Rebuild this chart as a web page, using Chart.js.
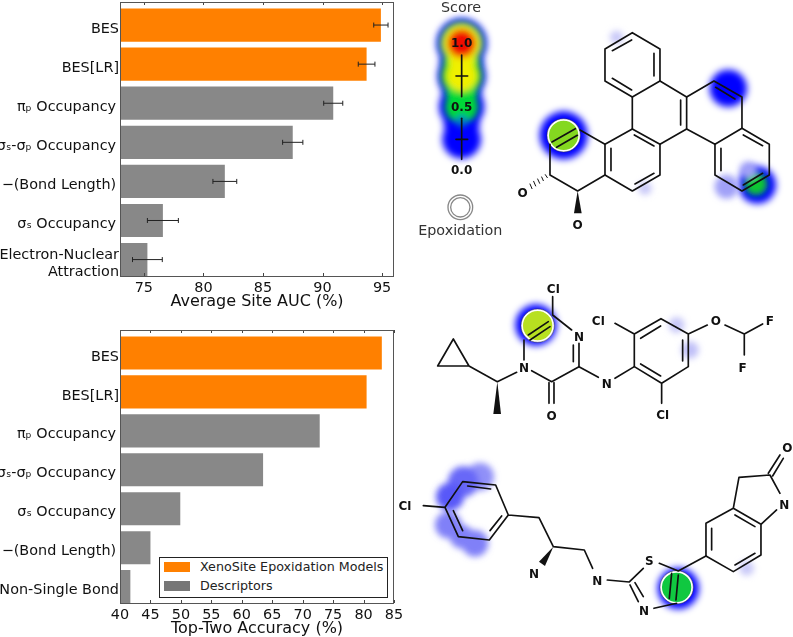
<!DOCTYPE html>
<html>
<head>
<meta charset="utf-8">
<script src="https://cdn.jsdelivr.net/npm/chart.js@4"></script>
<style>
html, body { margin: 0; padding: 0; background: #fff; overflow: hidden; }
body { width: 793px; height: 637px; position: relative; font-family: "DejaVu Sans", sans-serif; }
canvas { position: absolute; left: 0; }
#aucBox { position: absolute; left: 0; top: 0; width: 420px; height: 310px; }
#topBox { position: absolute; left: 0; top: 310px; width: 420px; height: 327px; }
#legend { position: absolute; left: 159px; top: 557px; width: 227px; height: 39px; border: 1px solid #222; background: #fff; font-size: 12.7px; color: #222; }
#legend div { position: absolute; left: 40px; white-space: nowrap; line-height: 14px; }
#legend span { position: absolute; left: 4px; width: 26px; height: 10px; }
#art { position: absolute; left: 0; top: 0; }
#art path, #art line { fill: none; stroke: #111; stroke-width: 5; stroke-linecap: round; stroke-linejoin: round; }
#art text { font-family: "DejaVu Sans", sans-serif; font-weight: bold; font-size: 36px; text-anchor: middle; dominant-baseline: central; fill: #111; }
#art text.plain { font-weight: normal; font-size: 43px; fill: #333; }
</style>
</head>
<body>
<div id="aucBox"><canvas id="aucChart"></canvas></div>
<div id="topBox"><canvas id="topChart"></canvas></div>
<div id="legend">
  <span id="swatchA" style="top:4px"></span><div style="top:2px">XenoSite Epoxidation Models</div>
  <span id="swatchB" style="top:23px"></span><div style="top:21px">Descriptors</div>
</div>

<svg id="art" width="793" height="637" viewBox="0 0 793 637">
  <defs>
    <filter id="b8" x="-60%" y="-60%" width="220%" height="220%"><feGaussianBlur stdDeviation="9"/></filter>
    <filter id="b12" x="-60%" y="-60%" width="220%" height="220%"><feGaussianBlur stdDeviation="11"/></filter>
  </defs>

  <!-- score key and first molecule, coordinates in 3x crop units -->
  <g transform="translate(400,0) scale(0.3333)">
    <g filter="url(#b12)" fill="#0000ff">
      <circle cx="185" cy="130" r="75"/><circle cx="185" cy="190" r="66"/><circle cx="185" cy="228" r="72"/><circle cx="185" cy="275" r="60"/><circle cx="185" cy="320" r="68"/><circle cx="185" cy="370" r="54"/><circle cx="185" cy="418" r="58"/>
      <circle cx="491" cy="406" r="72"/><circle cx="985" cy="265" r="56"/><circle cx="1072" cy="555" r="56"/>
    </g>
    <g filter="url(#b8)">
      <circle cx="185" cy="130" r="66" fill="#00e050"/><circle cx="185" cy="190" r="56" fill="#10e040"/><circle cx="185" cy="228" r="62" fill="#20e020"/><circle cx="185" cy="275" r="48" fill="#10e040"/><circle cx="185" cy="320" r="50" fill="#00d838"/><circle cx="185" cy="362" r="18" fill="#0080c0"/>
      <circle cx="185" cy="228" r="46" fill="#f0f000"/><circle cx="185" cy="180" r="40" fill="#f0f000"/><circle cx="185" cy="130" r="56" fill="#f0e800"/><circle cx="185" cy="130" r="42" fill="#f01000"/>
      <circle cx="1068" cy="552" r="34" fill="#10c830"/>
      <circle cx="650" cy="112" r="20" fill="#c8c8f8"/><circle cx="735" cy="565" r="20" fill="#c8c8f8"/><circle cx="980" cy="560" r="36" fill="#a0a0f8"/><circle cx="1045" cy="510" r="26" fill="#a0a0f8"/>
    </g>
    <circle cx="491" cy="406" r="47" fill="#84d820" stroke="#fff" stroke-width="6"/>
    <circle cx="491" cy="406" r="50" fill="none" stroke="#333" stroke-width="1.5"/>

    <path d="M697 98L780 147V243L697 291L615 243V147Z"/>
    <path d="M637 152L695 120M762 160V228M637 235L695 270"/>
    <path d="M780 243L860 291V387L780 433M697 291V387M842 300V375"/>
    <path d="M860 291L942 243L1026 291V385L945 433L860 387M947 262L1005 297"/>
    <path d="M1026 385L1108 433V525L1026 573L945 525V433M1030 405L1088 437M1030 555L1088 520M963 445V512"/>
    <path d="M697 387L780 433V525L697 573L615 525V433ZM633 445V512M705 552L762 520M703 405L762 438"/>
    <path d="M615 525L533 573L450 525V433M615 433L540 390M456 426L526 386M470 442L532 406"/>
    <path d="M442 533L436 524M430 542L425 531M419 550L413 537M407 558L401 544M396 566L390 552" style="stroke-width:3"/>
    <polygon points="533,573 522,640 545,640" fill="#111"/>
    <text x="368" y="580">O</text><text x="533" y="675">O</text>

    <line x1="185" y1="165" x2="185" y2="290"/><line x1="168" y1="228" x2="203" y2="228"/>
    <line x1="185" y1="355" x2="185" y2="478"/><line x1="168" y1="418" x2="203" y2="418"/>
    <text x="185" y="130">1.0</text><text x="185" y="320">0.5</text><text x="185" y="510">0.0</text>
    <text class="plain" x="183" y="20">Score</text><text class="plain" x="181" y="690">Epoxidation</text>
    <circle cx="181" cy="622" r="37" fill="none" stroke="#888" stroke-width="4"/><circle cx="181" cy="622" r="29" fill="none" stroke="#888" stroke-width="4"/>
  </g>

  <!-- second and third molecules -->
  <g transform="translate(400,260) scale(0.3333)">
    <g filter="url(#b12)" fill="#0000ff">
      <circle cx="408" cy="195" r="62"/><circle cx="835" cy="985" r="62"/>
    </g>
    <g filter="url(#b8)">
      <circle cx="830" cy="195" r="24" fill="#c8c8f8"/><circle cx="870" cy="270" r="26" fill="#c0c0f8"/><circle cx="1040" cy="925" r="22" fill="#c8c8f8"/>
      <circle cx="240" cy="650" r="42" fill="#9090f8"/><circle cx="190" cy="665" r="46" fill="#6868f8"/><circle cx="150" cy="710" r="42" fill="#5858f8"/><circle cx="145" cy="795" r="40" fill="#8080f8"/><circle cx="185" cy="830" r="36" fill="#8080f8"/><circle cx="225" cy="850" r="40" fill="#8080f8"/>
    </g>
    <circle cx="413" cy="197" r="47" fill="#b8e020" stroke="#fff" stroke-width="6"/>
    <circle cx="413" cy="197" r="50" fill="none" stroke="#333" stroke-width="1.5"/>
    <circle cx="830" cy="982" r="47" fill="#10c840" stroke="#fff" stroke-width="6"/>
    <circle cx="830" cy="982" r="50" fill="none" stroke="#333" stroke-width="1.5"/>

    <path d="M160 237L113 318H207ZM207 318L292 365L350 337M395 332L455 365L537 320L595 352M645 355L703 320"/>
    <polygon points="292,365 280,462 303,462" fill="#111"/>
    <path d="M372 300V240M385 225L445 185M390 240L450 200M458 110V165L515 210M520 255V305M537 250V320M447 368V430M462 368V430"/>
    <path d="M703 320V222L783 176L865 222V320L785 370ZM645 190L703 222M722 235L782 198M848 240V303M722 312L782 348M785 370V430M865 222L922 195M975 195L1033 222L1088 192M1033 222V285"/>
    <text x="460" y="88">Cl</text><text x="537" y="230">N</text><text x="372" y="325">N</text><text x="455" y="467">O</text><text x="620" y="372">N</text>
    <text x="595" y="182">Cl</text><text x="788" y="465">Cl</text><text x="948" y="182">O</text><text x="1110" y="182">F</text><text x="1028" y="323">F</text>

    <path d="M70 737L135 742M135 742L188 665L287 675L325 765L268 840L175 830ZM203 678L272 687M160 752L188 812M270 812L305 768M325 765L417 773L460 860L553 870L578 925"/>
    <polygon points="460,860 417,905 435,918" fill="#111"/>
    <path d="M622 960L688 966L730 925M778 910L835 933M815 940L808 1015M835 945L828 1020M830 1030L762 1045M715 1025L690 975M730 1010L705 968M835 933L918 888"/>
    <path d="M918 888V790L1000 745L1083 793V885L1000 935ZM935 805V870M1005 765L1065 800M1005 915L1065 880M1000 745L1017 652L1110 645L1140 700M1130 750L1083 793M1105 640L1140 585M1118 648L1150 595"/>
    <text x="15" y="738">Cl</text><text x="402" y="942">N</text><text x="592" y="962">N</text><text x="748" y="903">S</text><text x="732" y="1053">N</text><text x="1153" y="735">N</text><text x="1162" y="565">O</text>
  </g>
</svg>

<script>
var modelColor = '#ff8000';
var descriptorColor = '#888888';

var aucLabels = ['BES', 'BES[LR]', 'πₚ Occupancy\u2009', 'σₛ-σₚ Occupancy\u2009', '−(Bond Length)\u2009', 'σₛ Occupancy\u2009', ['Electron-Nuclear', 'Attraction']];
var aucValues = [94.9, 93.7, 90.9, 87.5, 81.8, 76.6, 75.3];
var aucErrors = [0.6, 0.7, 0.8, 0.85, 1.0, 1.3, 1.25];
var aucTicks = [75, 80, 85, 90, 95];

var topLabels = ['BES', 'BES[LR]', 'πₚ Occupancy\u2009', 'σₛ-σₚ Occupancy\u2009', 'σₛ Occupancy\u2009', '−(Bond Length)\u2009', 'Non-Single Bond'];
var topValues = [83.0, 80.5, 72.8, 63.5, 49.9, 45.0, 41.7];
var topTicks = [40, 45, 50, 55, 60, 65, 70, 75, 80, 85];

var modelCount = 2; // first two bars are the XenoSite models
var labelDrop = 0.1; // labels sit a little below the bar centres in the original

document.getElementById('swatchA').style.background = modelColor;
document.getElementById('swatchB').style.background = '#777';

// inward ticks and the box round the plot, the error bars if there are any
var framePlugin = {
  id: 'frame',
  afterDatasetsDraw: function(chart, args, opts) {
    var ctx = chart.ctx, a = chart.chartArea, x = chart.scales.x, y = chart.scales.y;
    ctx.save();
    ctx.strokeStyle = '#222';
    ctx.lineWidth = 1;
    (opts.errors || []).forEach(function(e, i) {
      var v = opts.values[i];
      var l = x.getPixelForValue(v - e), r = x.getPixelForValue(v + e), p = y.getPixelForValue(i);
      ctx.beginPath();
      ctx.moveTo(l, p); ctx.lineTo(r, p);
      ctx.moveTo(l, p - 2.5); ctx.lineTo(l, p + 2.5);
      ctx.moveTo(r, p - 2.5); ctx.lineTo(r, p + 2.5);
      ctx.stroke();
    });
    ctx.strokeStyle = '#444';
    ctx.beginPath();
    x.ticks.forEach(function(t) {
      var px = Math.round(x.getPixelForValue(t.value)) + 0.5;
      ctx.moveTo(px, a.top); ctx.lineTo(px, a.top + 3);
      ctx.moveTo(px, a.bottom); ctx.lineTo(px, a.bottom - 3);
    });
    ctx.stroke();
    ctx.strokeStyle = '#555';
    ctx.strokeRect(a.left + 0.5, a.top + 0.5, a.right - a.left - 1, a.bottom - a.top);
    ctx.restore();
  }
};

function barChart(id, labels, values, errors, ticks, xMin, xMax, title, topPad) {
  return new Chart(document.getElementById(id), {
    type: 'bar',
    plugins: [framePlugin],
    data: {
      datasets: [{
        data: values.map(function(v, i) { return { x: v, y: i }; }),
        backgroundColor: values.map(function(v, i) { return i < modelCount ? modelColor : descriptorColor; }),
        barPercentage: 0.85,
        categoryPercentage: 1
      }]
    },
    options: {
      indexAxis: 'y',
      responsive: true,
      maintainAspectRatio: false,
      animation: false,
      layout: { padding: { top: topPad, right: 26, left: 0, bottom: 0 } },
      plugins: {
        legend: { display: false },
        tooltip: { enabled: false },
        frame: { errors: errors, values: values }
      },
      scales: {
        x: {
          type: 'linear',
          min: xMin,
          max: xMax,
          afterBuildTicks: function(s) { s.ticks = ticks.map(function(t) { return { value: t }; }); },
          afterFit: function(s) { s.height = 34; },
          grid: { display: false, drawTicks: false },
          border: { display: false },
          ticks: { padding: 4, maxRotation: 0, autoSkip: false, color: '#111', font: { family: 'DejaVu Sans', size: 14.4 } },
          title: { display: true, text: title, color: '#111', padding: { top: 0, bottom: -1.5 }, font: { family: 'DejaVu Sans', size: 16 } }
        },
        y: {
          type: 'linear',
          reverse: true,
          offset: false,
          bounds: 'data',
          min: -0.59,
          max: 6.42,
          afterBuildTicks: function(s) {
            s.ticks = labels.map(function(l, i) { return { value: i + labelDrop }; });
            s.min = -0.59;
            s.max = 6.42;
          },
          afterFit: function(s) {
            s.width = 120;
            // the two-line bottom label must not push the plot down
            s.paddingTop = 0;
            s.paddingBottom = 0;
          },
          grid: { display: false, drawTicks: false },
          border: { display: false },
          ticks: {
            padding: 1,
            autoSkip: false,
            color: '#111',
            font: { family: 'DejaVu Sans', size: 14.4 },
            callback: function(v) { return labels[Math.round(v)]; }
          }
        }
      }
    }
  });
}

barChart('aucChart', aucLabels, aucValues, aucErrors, aucTicks, 73, 96, 'Average Site AUC (%)', 2);
barChart('topChart', topLabels, topValues, null, topTicks, 40, 85, 'Top-Two Accuracy (%)', 20);
</script>
</body>
</html>
